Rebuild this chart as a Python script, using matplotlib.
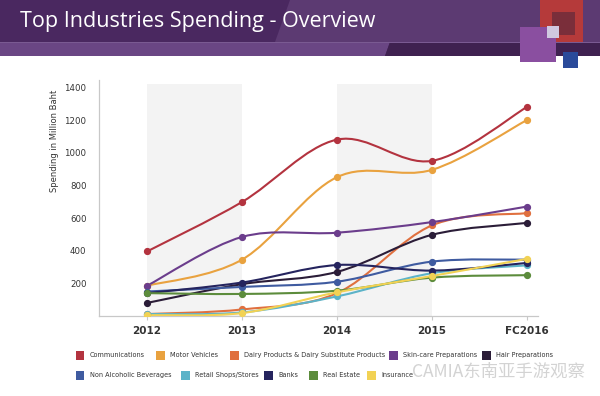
import matplotlib
matplotlib.use("Agg")
import matplotlib.pyplot as plt
import numpy as np
from matplotlib.path import Path
from matplotlib.patches import PathPatch, Rectangle, Polygon

# ---------------- data ----------------
years = ["2012", "2013", "2014", "2015", "FC2016"]
communications = [395, 698, 1080, 950, 1280]
motor_vehicles = [185, 345, 850, 895, 1200]
dairy_products = [12, 40, 140, 555, 630]
skin_care = [185, 484, 510, 575, 670]
hair_prep = [80, 195, 270, 497, 570]
non_alcoholic = [150, 178, 210, 333, 345]
retail_shops = [12, 22, 120, 262, 310]
banks = [140, 205, 312, 278, 325]
real_estate = [140, 135, 155, 235, 250]
insurance = [5, 18, 145, 245, 350]

series_labels = ["Communications", "Motor Vehicles",
                 "Dairy Products & Dairy Substitute Products",
                 "Skin-care Preparations", "Hair Preparations",
                 "Non Alcoholic Beverages", "Retail Shops/Stores", "Banks",
                 "Real Estate", "Insurance"]
series_values = [communications, motor_vehicles, dairy_products, skin_care,
                 hair_prep, non_alcoholic, retail_shops, banks, real_estate,
                 insurance]
series_colors = ["#b3333f", "#e9a23f", "#e0703f", "#6b3d8c", "#2b1d38",
                 "#3f5ba0", "#5cb3c8", "#25245e", "#5c8c3c", "#f2d254"]
y_ticks = [200, 400, 600, 800, 1000, 1200, 1400]

# ---------------- figure ----------------
W, H = 600, 396
fig = plt.figure(figsize=(6, 3.96), dpi=100)
fig.patch.set_facecolor("white")

def fx(px):
    return px / W

def fy(py):
    return 1 - py / H

# header banner
def poly(pts, color, z=0):
    fig.patches.append(Polygon([(fx(x), fy(y)) for x, y in pts], closed=True,
                               transform=fig.transFigure, facecolor=color,
                               edgecolor="none", zorder=z))

poly([(0, 0), (600, 0), (600, 56), (0, 56)], "#4a2860")
poly([(290, 0), (600, 0), (600, 42), (275, 42)], "#5c3a72")
poly([(0, 42), (390, 42), (385, 56), (0, 56)], "#6a4684")
poly([(390, 42), (600, 42), (600, 56), (385, 56)], "#3f2150")
poly([(0, 41.5), (600, 41.5), (600, 43), (0, 43)], "#7a5a92")
# decorative squares
poly([(540, 0), (583, 0), (583, 42), (540, 42)], "#b53a3a")
poly([(552, 12), (575, 12), (575, 35), (552, 35)], "#7a2e3a")
poly([(520, 27), (556, 27), (556, 62), (520, 62)], "#8a4fa0")
poly([(547, 26), (559, 26), (559, 38), (547, 38)], "#d0c8e0")
poly([(563, 52), (578, 52), (578, 68), (563, 68)], "#2a4a9a")

fig.text(fx(20), fy(22), "Top Industries Spending - Overview", color="white",
         fontsize=15.5, family="Open Sans", va="center", ha="left")

# ---------------- axes ----------------
ax = fig.add_axes([fx(99), fy(316), fx(538) - fx(99), (316 - 80) / H])
x = np.arange(len(years))
ax.set_xlim(-0.505, 4.116)
ax.set_ylim(0, 1445)

for a, b in [(0, 1), (2, 3)]:
    ax.add_patch(Rectangle((a, 0), b - a, 1420, facecolor="#f3f3f3",
                           edgecolor="none", zorder=0))

def smooth_path(xs, ys):
    pts = np.column_stack([xs, ys]).astype(float)
    n = len(pts)
    verts = [pts[0]]
    codes = [Path.MOVETO]
    for i in range(n - 1):
        p0 = pts[i - 1] if i > 0 else pts[i]
        p1 = pts[i]
        p2 = pts[i + 1]
        p3 = pts[i + 2] if i + 2 < n else pts[i + 1]
        c1 = p1 + (p2 - p0) / 6.0
        c2 = p2 - (p3 - p1) / 6.0
        verts += [c1, c2, p2]
        codes += [Path.CURVE4] * 3
    return Path(verts, codes)

for vals, col in zip(series_values, series_colors):
    ax.add_patch(PathPatch(smooth_path(x, vals), facecolor="none",
                           edgecolor=col, lw=1.5, zorder=3))
    ax.plot(x, vals, "o", color=col, ms=4.2, zorder=4)

for s in ["top", "right"]:
    ax.spines[s].set_visible(False)
for s in ["left", "bottom"]:
    ax.spines[s].set_color("#c8c8c8")
    ax.spines[s].set_linewidth(0.9)

ax.set_xticks(x)
ax.set_xticklabels(years, fontsize=7.5, color="#333333", fontweight="semibold")
ax.tick_params(axis="x", length=3, color="#c8c8c8", pad=4)
ax.set_yticks(y_ticks)
ax.set_yticklabels([str(v) for v in y_ticks], fontsize=6.2, color="#333333")
ax.tick_params(axis="y", length=0, pad=9)

fig.text(fx(55), fy(141), "Spending in Million Baht", rotation=90,
         fontsize=6, color="#333333", ha="center", va="center")

# ---------------- legend ----------------
leg_pos = [(80, 355), (160, 355), (234, 355), (393, 355), (486, 355),
           (80, 375), (185, 375), (268, 375), (313, 375), (371, 375)]
for (px, py), lab, col in zip(leg_pos, series_labels, series_colors):
    fig.patches.append(Rectangle((fx(px - 4.5), fy(py + 4.5)), 9 / W, 9 / H,
                                 transform=fig.transFigure, facecolor=col,
                                 edgecolor="none"))
    fig.text(fx(px + 10), fy(py), lab, fontsize=4.7, color="#333333",
             va="center", ha="left")

# watermark
fig.text(fx(412), fy(372), "CAMIA东南亚手游观察", fontsize=12.5, color="#c8c8c8",
         alpha=0.8, va="center", ha="left",
         family=["Noto Sans CJK SC", "DejaVu Sans"])

fig.savefig("out.png", dpi=100)
